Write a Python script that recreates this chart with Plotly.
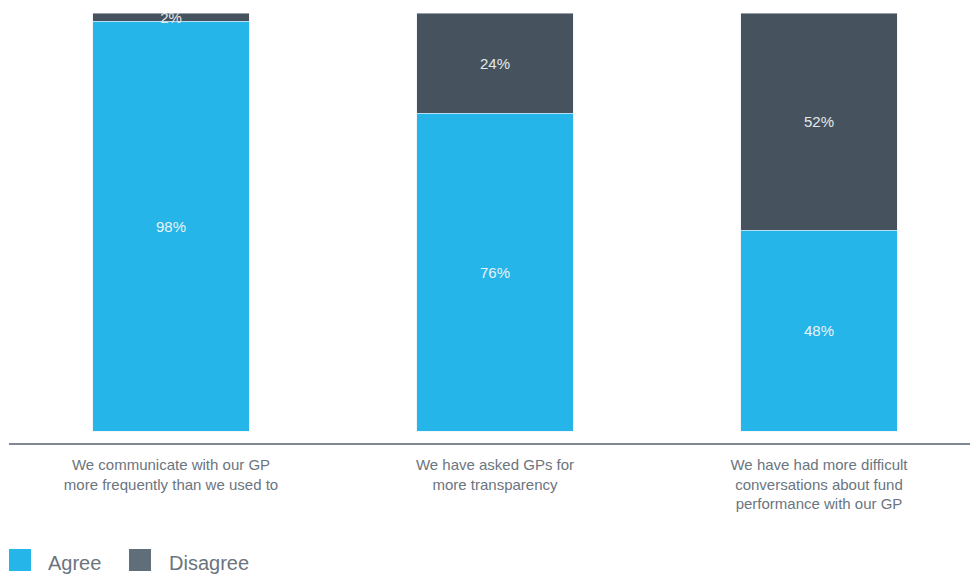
import plotly.graph_objects as go

categories = [
    "We communicate with our GP<br>more frequently than we used to",
    "We have asked GPs for<br>more transparency",
    "We have had more difficult<br>conversations about fund<br>performance with our GP",
]
agree = [98, 76, 48]
disagree = [2, 24, 52]

AGREE_COLOR = "#25B5E8"
DISAGREE_COLOR = "#46535E"
DISAGREE_KEY = "#5F6E79"
TEXT_GREY = "#6B7580"
FONT = "Liberation Sans, Arial, sans-serif"

x = list(range(len(categories)))

fig = go.Figure()
fig.add_trace(go.Bar(
    x=x, y=agree, name="Agree", marker_color=AGREE_COLOR, width=0.482,
    text=[f"{v}%" for v in agree], textposition="inside", insidetextanchor="middle",
    constraintext="none", textfont=dict(color="#EAF3F8", size=15, family=FONT),
    showlegend=False,
))
fig.add_trace(go.Bar(
    x=x, y=disagree, name="Disagree", marker_color=DISAGREE_COLOR, width=0.482,
    text=[f"{v}%" for v in disagree], textposition="inside", insidetextanchor="middle",
    constraintext="none", textfont=dict(color="#E4E9EC", size=15, family=FONT),
    showlegend=False,
))

# legend drawn as swatches + labels below the axis
legend_items = [("Agree", AGREE_COLOR, 9, 46), ("Disagree", DISAGREE_KEY, 129, 167)]
W, H = 970, 574
for label, color, sx, tx in legend_items:
    fig.add_shape(type="rect", xref="paper", yref="paper",
                  x0=(sx - 9) / 961, x1=(sx + 13) / 961,
                  y0=-(571 - 443) / 430, y1=-(549 - 443) / 430,
                  fillcolor=color, line_width=0)
    fig.add_annotation(xref="paper", yref="paper", x=(tx - 9) / 961, y=-(563 - 443) / 430,
                       text=label, showarrow=False, xanchor="left", yanchor="middle",
                       font=dict(size=20, color=TEXT_GREY, family=FONT))

fig.update_layout(
    barmode="stack",
    width=W, height=H,
    margin=dict(l=9, r=0, t=13, b=131),
    plot_bgcolor="white", paper_bgcolor="white",
    font=dict(family=FONT, color=TEXT_GREY),
    xaxis=dict(
        range=[-0.5, -0.5 + 961 / 324], tickvals=x, ticktext=categories,
        showline=True, linecolor="#7F8890", linewidth=2, showgrid=False,
        ticks="", tickfont=dict(size=15, color=TEXT_GREY), ticklabelstandoff=7,
        zeroline=False,
    ),
    yaxis=dict(range=[-12 / 4.18, 100], visible=False, showgrid=False, zeroline=False),
)

fig.write_html("out.html")
